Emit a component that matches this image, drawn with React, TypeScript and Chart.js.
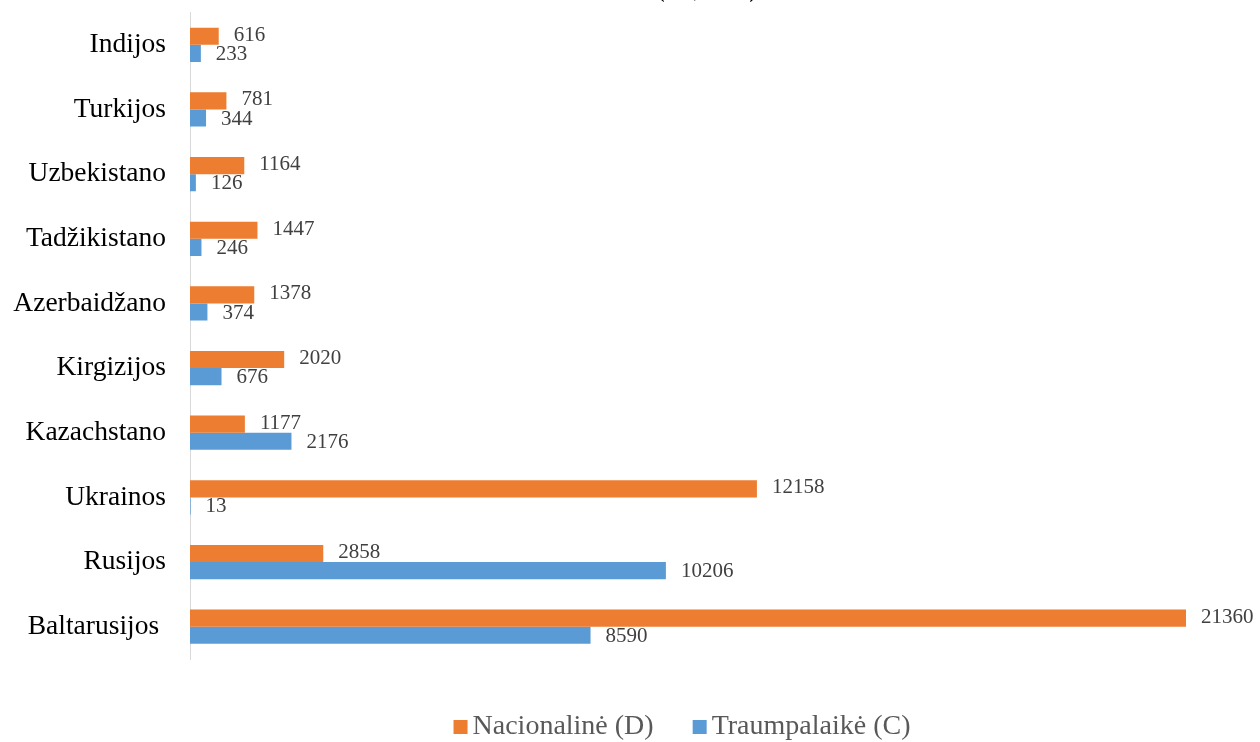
import React, { useEffect, useRef } from "react";
import { Chart, registerables } from "chart.js";

Chart.register(...registerables);

const categories = [
  "Indijos",
  "Turkijos",
  "Uzbekistano",
  "Tadžikistano",
  "Azerbaidžano",
  "Kirgizijos",
  "Kazachstano",
  "Ukrainos",
  "Rusijos",
  "Baltarusijos ",
];
const nacionaline = [616, 781, 1164, 1447, 1378, 2020, 1177, 12158, 2858, 21360];
const trumpalaike = [233, 344, 126, 246, 374, 676, 2176, 13, 10206, 8590];
const seriesNames = ["Nacionalinė (D)", "Traumpalaikė (C)"];
const seriesColors = ["#ED7D31", "#5B9BD5"];
const titleText = "(vnt., iš viso)";

const SERIF = "'Liberation Serif', 'Times New Roman', serif";

const dataLabelPlugin = {
  id: "dataLabels",
  afterDatasetsDraw(chart: any) {
    const ctx = chart.ctx;
    ctx.save();
    ctx.font = `21px ${SERIF}`;
    ctx.fillStyle = "#404040";
    ctx.textAlign = "left";
    ctx.textBaseline = "middle";
    chart.data.datasets.forEach((ds: any, di: number) => {
      const meta = chart.getDatasetMeta(di);
      meta.data.forEach((el: any, i: number) => {
        const v = ds.data[i];
        ctx.fillText(String(v), el.x + 15, el.y + (di === 0 ? -1 : 1));
      });
    });
    ctx.restore();
  },
};

const bottomLegendPlugin = {
  id: "bottomLegend",
  afterDraw(chart: any) {
    const ctx = chart.ctx;
    const box = 14;
    const gap = 5;
    const itemGap = 39;
    ctx.save();
    ctx.font = `28px ${SERIF}`;
    ctx.textBaseline = "middle";
    ctx.textAlign = "left";
    const items = chart.data.datasets.map((ds: any) => ({
      text: ds.label,
      color: ds.backgroundColor,
      w: ctx.measureText(ds.label).width,
    }));
    const total =
      items.reduce((s: number, it: any) => s + box + gap + it.w, 0) +
      itemGap * (items.length - 1);
    const center = (chart.chartArea.left + chart.chartArea.right) / 2 - 25;
    let x = center - total / 2;
    const y = chart.height - 15;
    items.forEach((it: any) => {
      ctx.fillStyle = it.color;
      ctx.fillRect(x, y - box / 2, box, box);
      ctx.fillStyle = "#595959";
      ctx.fillText(it.text, x + box + gap, y);
      x += box + gap + it.w + itemGap;
    });
    ctx.restore();
  },
};

export default function App() {
  const ref = useRef<HTMLCanvasElement>(null);
  useEffect(() => {
    if (!ref.current) return;
    const chart = new Chart(ref.current, {
      type: "bar",
      data: {
        labels: categories,
        datasets: [
          {
            label: seriesNames[0],
            data: nacionaline,
            backgroundColor: seriesColors[0],
            borderWidth: 0,
          },
          {
            label: seriesNames[1],
            data: trumpalaike,
            backgroundColor: seriesColors[1],
            borderWidth: 0,
          },
        ],
      },
      options: {
        indexAxis: "y",
        animation: false,
        responsive: true,
        maintainAspectRatio: false,
        layout: { padding: { left: 0, right: 36, top: 0, bottom: 83 } },
        datasets: {
          bar: { barPercentage: 1, categoryPercentage: 0.53 },
        },
        scales: {
          x: {
            display: false,
            min: 0,
            max: 22175,
          },
          y: {
            grid: { display: false, drawTicks: false },
            border: { display: true, color: "#D9D9D9", width: 1 },
            ticks: {
              color: "#000000",
              font: { family: SERIF, size: 27.5 },
              padding: 24,
            },
            afterFit(scale: any) {
              scale.width = 190;
            },
          },
        },
        plugins: {
          title: {
            display: true,
            fullSize: false,
            text: titleText,
            color: "#000000",
            font: { family: SERIF, size: 18, weight: "bold" },
            padding: { top: 0, bottom: 8 },
          },
          legend: { display: false },
          tooltip: { enabled: false },
        },
      },
      plugins: [dataLabelPlugin, bottomLegendPlugin],
    });
    return () => chart.destroy();
  }, []);
  return (
    <div
      style={{
        position: "fixed",
        left: 0,
        top: -28,
        width: 1260,
        height: 770,
        background: "#ffffff",
      }}
    >
      <canvas ref={ref} />
    </div>
  );
}
